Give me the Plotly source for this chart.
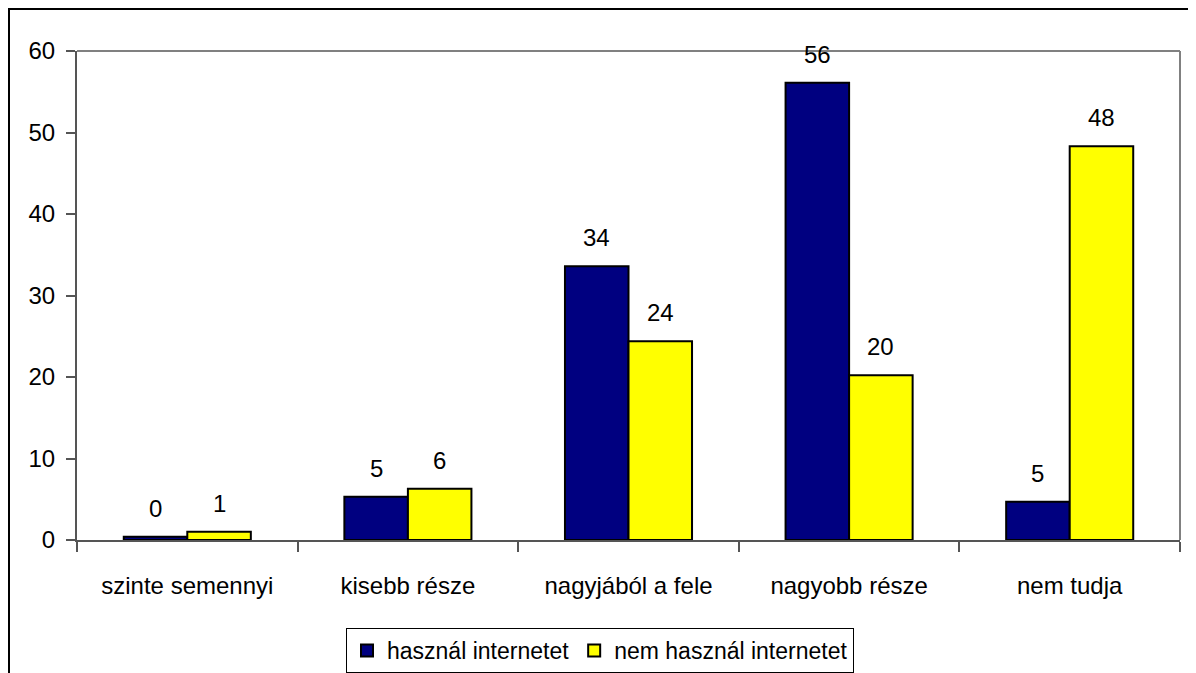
import plotly.graph_objects as go

categories = ["szinte semennyi", "kisebb része", "nagyjából a fele", "nagyobb része", "nem tudja"]
uses_internet = [0.4, 5.3, 33.6, 56.1, 4.7]
no_internet = [1.0, 6.3, 24.4, 20.2, 48.3]
series_names = ["használ internetet", "nem használ internetet"]
y_ticks = [0, 10, 20, 30, 40, 50, 60]

FONT = "Liberation Sans, Arial, sans-serif"
fs = 24

# page body has an 8px margin: margins are shifted by 8px to compensate
W, H = 1196, 673
ML, MT, MR, MB = 69, 43, 24, 141
plot_w = W - ML - MR
plot_h = H - MT - MB

fig = go.Figure()
fig.add_trace(go.Bar(name=series_names[0], x=categories, y=uses_internet,
                     marker=dict(color="#000080", line=dict(color="#000000", width=2))))
fig.add_trace(go.Bar(name=series_names[1], x=categories, y=no_internet,
                     marker=dict(color="#FFFF00", line=dict(color="#000000", width=2))))

bargap = 0.424
cat_w = plot_w / len(categories)
half = (1 - bargap) / 4 * cat_w

for vals, sh in ((uses_internet, -half), (no_internet, half)):
    for c, v in zip(categories, vals):
        fig.add_annotation(x=c, y=v, text=f"{round(v):d}", showarrow=False,
                           xshift=sh, yshift=13, yanchor="bottom",
                           font=dict(family=FONT, size=fs, color="#000"))

# outer frame (left and top edges visible)
fx0 = (1 - ML) / plot_w
fy1 = 1 + (MT - 1) / plot_h
fig.add_shape(type="rect", xref="paper", yref="paper", x0=fx0, x1=1.1, y0=-0.4, y1=fy1,
              line=dict(color="#000", width=2), layer="below")
# top and right plot border in gray
fig.add_shape(type="line", xref="paper", yref="paper", x0=0, x1=1, y0=1, y1=1,
              line=dict(color="#808080", width=2))
fig.add_shape(type="line", xref="paper", yref="paper", x0=1, x1=1, y0=0, y1=1,
              line=dict(color="#808080", width=2))

fig.update_layout(
    width=W, height=H,
    margin=dict(l=ML, r=MR, t=MT, b=MB, autoexpand=False),
    paper_bgcolor="white", plot_bgcolor="white",
    barmode="group", bargap=bargap, bargroupgap=0,
    font=dict(family=FONT, size=fs, color="#000"),
    showlegend=True,
    legend=dict(orientation="h", x=(600 - 77) / plot_w, xanchor="center",
                y=-88 / plot_h, yanchor="top",
                bordercolor="#000", borderwidth=1, font=dict(size=23),
                itemsizing="constant", traceorder="normal", itemwidth=30),
    xaxis=dict(showline=True, linecolor="#555", linewidth=2, ticks="outside",
               tickson="boundaries", ticklen=10, tickcolor="#555", tickwidth=2,
               showgrid=False, ticklabelstandoff=23),
    yaxis=dict(range=[0, 60], tickvals=y_ticks, showline=True, linecolor="#555",
               linewidth=2, ticks="outside", ticklen=9, tickcolor="#555", tickwidth=2,
               showgrid=False, zeroline=False, ticklabelstandoff=6),
)

fig.write_html("out.html")
